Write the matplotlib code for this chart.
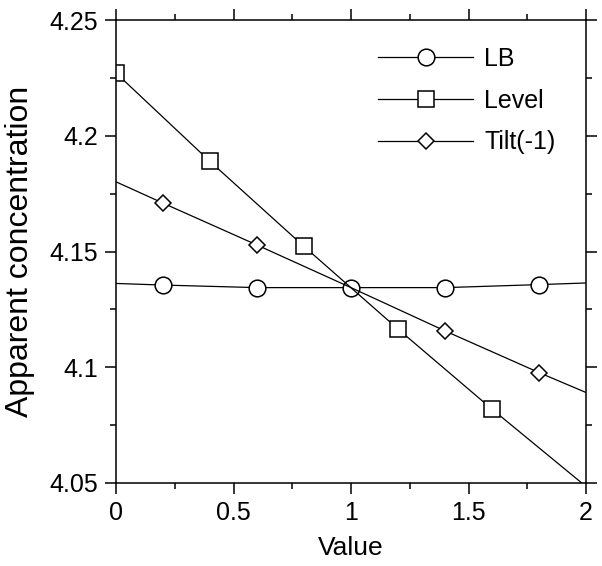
import matplotlib
matplotlib.use("Agg")
import matplotlib.pyplot as plt
from matplotlib.ticker import MultipleLocator

# values
lb_x = [0.0, 0.2, 0.6, 1.0, 1.4, 1.8, 2.0]
lb_y = [4.1362, 4.1355, 4.1344, 4.1344, 4.1344, 4.1357, 4.1364]

level_x = [0.0, 0.4, 0.8, 1.2, 1.6, 2.0]
level_y = [4.2271, 4.1889, 4.1522, 4.1165, 4.0819, 4.0485]

tilt_x = [0.0, 0.2, 0.6, 1.0, 1.4, 1.8, 2.0]
tilt_y = [4.1801, 4.1709, 4.1528, 4.1344, 4.1157, 4.0977, 4.0891]

x_ticks = [0, 0.5, 1, 1.5, 2]
x_labels = ["0", "0.5", "1", "1.5", "2"]
y_ticks = [4.05, 4.1, 4.15, 4.2, 4.25]
y_labels = ["4.05", "4.1", "4.15", "4.2", "4.25"]

plt.rcParams["font.family"] = ["Liberation Sans", "DejaVu Sans"]

W, H = 602, 566
fig = plt.figure(figsize=(W / 100, H / 100), dpi=100)
ax = fig.add_axes([116 / W, 1 - 483 / H, 470 / W, 463 / H])

common = dict(color="black", lw=0.9, mfc="white", mec="black", mew=1.1)
ax.plot(lb_x, lb_y, marker="o", ms=12, markevery=[1, 2, 3, 4, 5], label="LB", **common)
ax.plot(level_x, level_y, marker="s", ms=12, markevery=[0, 1, 2, 3, 4], label="Level", **common)
ax.plot(tilt_x, tilt_y, marker="D", ms=8, markevery=[1, 2, 4, 5], label="Tilt(-1)", **common)

ax.set_xlim(0, 2)
ax.set_ylim(4.05, 4.25)
ax.xaxis.set_minor_locator(MultipleLocator(0.25))
ax.yaxis.set_minor_locator(MultipleLocator(0.025))
ax.set_xticks(x_ticks)
ax.set_xticklabels(x_labels)
ax.set_yticks(y_ticks)
ax.set_yticklabels(y_labels)

ax.tick_params(which="both", direction="out", top=True, right=True,
               width=1.1, labelsize=18, pad=5)
ax.tick_params(which="major", length=8)
ax.tick_params(which="minor", length=4.5)
for s in ax.spines.values():
    s.set_linewidth(1.1)

ax.set_xlabel("Value", fontsize=19)
ax.xaxis.label.set_va("center")
ax.xaxis.set_label_coords(0.5, (483 - 548) / 463)
ax.set_ylabel("Apparent concentration", fontsize=23)
ax.yaxis.label.set_va("center")
ax.yaxis.set_label_coords((20 - 116) / 470, 0.5)

ax.legend(loc="upper left", frameon=False, fontsize=18, handlelength=3.8,
          labelspacing=0.71, handletextpad=0.45, borderpad=0, borderaxespad=0,
          bbox_to_anchor=(378 / W, 1 - 47 / H), bbox_transform=fig.transFigure)

fig.savefig("out.png", dpi=100)
